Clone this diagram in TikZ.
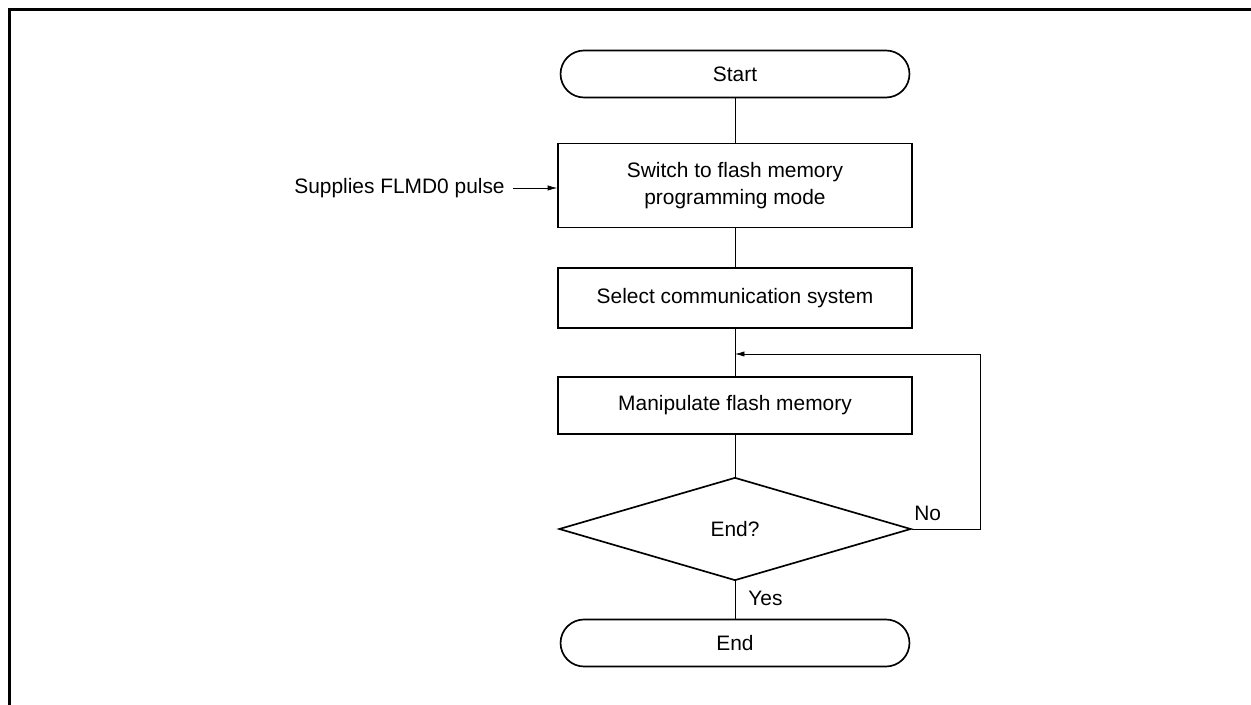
\documentclass[tikz,border=0pt]{standalone}
\usepackage{fontspec}
\setmainfont{Liberation Sans}
\usetikzlibrary{arrows.meta,shapes.geometric,positioning}

\tikzset{
  flowbox/.style={draw, line width=0.95pt, minimum width=7.08cm, align=center,
                  font=\fontsize{11.9}{15.3}\selectfont, inner sep=0pt},
  termbox/.style={flowbox, rounded corners=0.47cm, minimum width=6.98cm, minimum height=0.94cm},
  decbox/.style={flowbox, diamond, minimum width=7.04cm, minimum height=2.06cm},
  flowline/.style={line width=0.4pt},
  flowarrow/.style={flowline, -{Latex[length=5.4pt,width=3pt]}},
  lbl/.style={font=\fontsize{11.9}{14}\selectfont, inner sep=0pt}
}

\begin{document}
\begin{tikzpicture}[x=0.02cm, y=-0.02cm]
    \useasboundingbox (0,0) rectangle (1251,705);

    % Frame (top and left only)
    \draw[line width=1.7pt] (1251,9.5) -- (9.5,9.5) -- (9.5,705);

    % Flow boxes
    \node[termbox] (start) at (735,74) {Start};
    \node[flowbox, minimum height=1.68cm] (switch) at (735,185.5)
      {Switch to flash memory\\programming mode};
    \node[flowbox, minimum height=1.2cm] (select) at (735,298)
      {Select communication system};
    \node[flowbox, minimum height=1.14cm] (manip) at (735,405.5)
      {Manipulate flash memory};
    \node[decbox] (endq) at (735,529) {End?};
    \node[termbox] (finish) at (735,643) {End};

    % Side input
    \node[lbl, anchor=east] (flmd) at (505,188) {Supplies FLMD0 pulse};

    % Connectors
    \draw[flowline] (start) -- (switch);
    \draw[flowline] (switch) -- (select);
    \draw[flowline] (select) -- (manip);
    \draw[flowline] (manip) -- (endq);
    \draw[flowline] (endq) -- (finish);
    \draw[flowarrow] ([xshift=4.5pt]flmd.east) -- (flmd.east -| switch.west);

    % Loop back on No
    \coordinate (loopin) at (735,354);
    \coordinate (loopout) at (980,529);
    \draw[flowarrow] (endq.east) -- (loopout) |- (loopin);

    % Branch labels
    \node[lbl, anchor=south west] (nolbl) at (914,521) {No};
    \node[lbl, anchor=west] (yeslbl) at (748,598) {Yes};
\end{tikzpicture}
\end{document}
